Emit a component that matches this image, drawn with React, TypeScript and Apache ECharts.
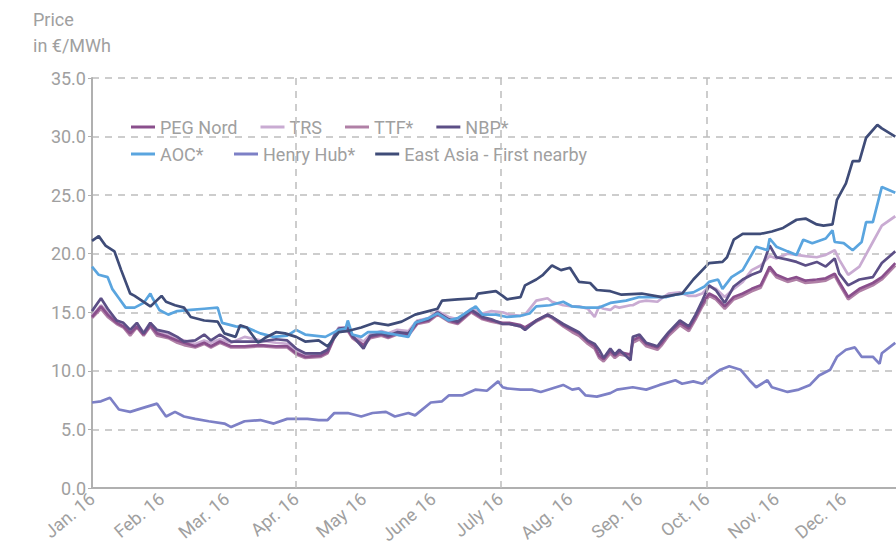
import React, { useEffect, useRef } from "react";
import * as echarts from "echarts";

// Month tick labels and quarter gridlines
const monthLabels = ["Jan. 16", "Feb. 16", "Mar. 16", "Apr. 16", "May 16", "June 16", "July 16", "Aug. 16", "Sep. 16", "Oct. 16", "Nov. 16", "Dec. 16"];
const quarterStarts = ["2016-04-01", "2016-07-01", "2016-10-01"];

// Every day of 2016 as axis categories
const days: string[] = [];
for (let i = 0; i < 366; i++) {
  const d = new Date(Date.UTC(2016, 0, 1 + i));
  days.push(d.toISOString().slice(0, 10));
}

// [day of year (0 = 1 Jan), price in €/MWh]
const nbp: [number, number][] = [[0,15.1],[4,16.2],[7,15.3],[11,14.3],[14,14.1],[17,13.5],[20,14.1],[23,13.2],[26,14.1],[29,13.5],[34,13.3],[38,12.9],[41,12.5],[46,12.6],[50,13.1],[53,12.6],[57,13.1],[62,12.5],[68,12.5],[75,12.5],[82,12.7],[87,12.6],[91,11.9],[95,11.5],[102,11.5],[105,11.8],[108,13.0],[110,13.6],[114,13.7],[116,13.0],[121,11.9],[124,13.0],[129,13.2],[132,13.0],[136,13.3],[141,13.2],[145,14.2],[150,14.4],[154,15.0],[159,14.4],[163,14.2],[169,15.2],[174,14.6],[178,14.4],[183,14.0],[186,14.0],[191,13.8],[193,13.5],[198,14.3],[203,14.8],[205,14.6],[210,14.0],[214,13.6],[217,13.3],[221,12.6],[224,12.3],[226,11.8],[228,11.1],[231,11.9],[233,11.4],[235,11.8],[240,10.9],[241,12.9],[244,13.1],[247,12.4],[252,12.1],[254,12.6],[257,13.3],[262,14.3],[266,13.8],[269,14.8],[272,16.0],[275,17.3],[278,16.9],[282,15.8],[286,17.2],[290,17.8],[294,18.2],[298,18.5],[302,20.7],[305,19.7],[310,19.5],[314,19.3],[318,19.0],[323,19.3],[327,18.9],[331,19.6],[333,18.3],[337,17.3],[342,17.8],[348,18.0],[352,19.2],[358,20.2]];
const pegNord: [number, number][] = [[0,14.6],[4,15.5],[7,14.8],[11,14.1],[14,13.8],[17,13.2],[20,13.8],[23,13.1],[26,13.9],[29,13.2],[34,12.9],[38,12.6],[41,12.4],[46,12.1],[50,12.4],[53,12.1],[57,12.5],[62,12.1],[68,12.1],[75,12.2],[82,12.1],[87,12.1],[91,11.5],[95,11.2],[102,11.3],[105,11.6],[108,12.9],[110,13.5],[114,13.5],[116,12.9],[121,12.2],[124,12.9],[129,13.1],[132,12.9],[136,13.2],[141,13.1],[145,14.1],[150,14.3],[154,14.9],[159,14.3],[163,14.1],[169,15.1],[174,14.5],[178,14.3],[183,14.1],[186,14.1],[191,13.9],[193,13.7],[198,14.3],[203,14.8],[205,14.6],[210,13.9],[214,13.5],[217,13.2],[221,12.5],[224,12.1],[226,11.3],[228,11.0],[231,11.7],[233,11.3],[235,11.6],[240,11.4],[241,12.6],[244,12.9],[247,12.3],[252,12.0],[254,12.4],[257,13.2],[262,14.1],[266,13.6],[269,14.6],[272,15.7],[275,16.6],[278,16.3],[282,15.5],[286,16.3],[290,16.6],[294,17.0],[298,17.3],[302,18.9],[305,18.2],[310,17.8],[314,18.0],[318,17.7],[323,17.8],[327,17.9],[331,18.3],[333,17.6],[337,16.3],[342,17.0],[348,17.5],[352,18.0],[358,19.2]];
const ttf: [number, number][] = [[0,14.5],[4,15.3],[7,14.6],[11,14.0],[14,13.7],[17,13.0],[20,13.7],[23,13.0],[26,13.8],[29,13.0],[34,12.8],[38,12.4],[41,12.2],[46,12.0],[50,12.3],[53,12.0],[57,12.4],[62,12.0],[68,12.0],[75,12.1],[82,12.0],[87,12.0],[91,11.4],[95,11.1],[102,11.2],[105,11.5],[108,12.8],[110,13.4],[114,13.4],[116,12.8],[121,12.1],[124,12.8],[129,13.0],[132,12.8],[136,13.1],[141,13.0],[145,14.0],[150,14.2],[154,14.8],[159,14.2],[163,14.0],[169,15.0],[174,14.4],[178,14.2],[183,14.0],[186,14.0],[191,13.8],[193,13.6],[198,14.2],[203,14.7],[205,14.5],[210,13.8],[214,13.3],[217,13.0],[221,12.3],[224,11.9],[226,11.1],[228,10.8],[231,11.5],[233,11.1],[235,11.4],[240,11.2],[241,12.4],[244,12.7],[247,12.1],[252,11.8],[254,12.2],[257,13.0],[262,13.9],[266,13.4],[269,14.4],[272,15.5],[275,16.4],[278,16.1],[282,15.3],[286,16.1],[290,16.4],[294,16.8],[298,17.1],[302,18.7],[305,18.0],[310,17.6],[314,17.8],[318,17.5],[323,17.6],[327,17.7],[331,18.1],[333,17.4],[337,16.1],[342,16.8],[348,17.3],[352,17.8],[358,19.0]];
const trs: [number, number][] = [[0,14.7],[4,15.6],[7,15.0],[11,14.3],[14,14.0],[17,13.4],[20,14.0],[23,13.3],[26,14.1],[29,13.4],[34,13.1],[38,12.8],[41,12.6],[46,12.3],[50,12.6],[53,12.4],[57,12.7],[62,12.4],[68,12.9],[75,12.6],[82,12.4],[87,12.3],[91,11.7],[95,11.4],[102,11.5],[105,11.8],[108,13.1],[110,13.7],[114,13.7],[116,13.1],[121,12.5],[124,13.1],[129,13.4],[132,13.2],[136,13.5],[141,13.4],[145,14.3],[150,14.5],[154,15.1],[159,14.6],[163,14.4],[169,15.3],[174,14.9],[178,15.1],[183,15.0],[186,14.8],[191,14.7],[193,14.8],[198,16.0],[203,16.2],[205,15.9],[210,15.6],[214,15.5],[217,15.5],[221,15.3],[224,14.6],[226,15.5],[228,15.3],[231,15.2],[233,15.5],[235,15.4],[240,15.6],[241,15.6],[244,15.9],[247,16.0],[252,15.9],[254,16.2],[257,16.6],[262,16.7],[266,16.4],[269,16.4],[272,16.6],[275,17.2],[278,17.0],[282,16.3],[286,17.0],[290,17.6],[294,18.6],[298,19.0],[302,19.8],[305,19.6],[310,20.0],[314,19.9],[318,19.8],[323,19.7],[327,19.9],[331,20.3],[333,19.5],[337,18.2],[342,18.9],[348,21.0],[352,22.4],[358,23.2]];
const aoc: [number, number][] = [[0,18.9],[3,18.2],[7,18.0],[9,17.0],[12,16.2],[15,15.4],[19,15.4],[23,15.8],[26,16.6],[27,16.2],[30,15.2],[34,14.8],[38,15.1],[44,15.2],[50,15.3],[56,15.4],[58,14.1],[64,13.8],[69,13.7],[75,13.2],[81,12.9],[87,13.0],[91,13.5],[95,13.1],[104,12.9],[110,13.5],[113,13.6],[114,14.3],[116,13.1],[120,12.9],[123,13.3],[129,13.3],[135,13.1],[141,12.9],[144,14.1],[150,14.5],[154,14.9],[159,14.3],[163,14.5],[171,15.5],[174,14.8],[180,14.8],[185,14.6],[191,14.7],[195,14.9],[198,15.5],[204,15.6],[210,15.9],[214,15.5],[220,15.4],[226,15.4],[231,15.8],[238,16.0],[244,16.3],[256,16.3],[260,16.5],[268,16.7],[273,17.2],[275,17.6],[279,17.8],[281,17.0],[285,18.0],[290,18.6],[296,20.6],[301,20.3],[302,21.3],[305,20.6],[310,20.2],[314,19.9],[317,21.2],[321,20.9],[327,21.3],[330,22.0],[331,21.0],[335,20.9],[339,20.3],[343,21.0],[345,22.7],[348,22.7],[352,25.7],[358,25.2]];
const henryHub: [number, number][] = [[0,7.3],[4,7.4],[8,7.7],[12,6.7],[17,6.5],[22,6.8],[29,7.2],[33,6.1],[37,6.5],[41,6.1],[46,5.9],[52,5.7],[59,5.5],[62,5.2],[68,5.7],[75,5.8],[81,5.5],[87,5.9],[91,5.9],[96,5.9],[101,5.8],[105,5.8],[108,6.4],[114,6.4],[120,6.1],[125,6.4],[131,6.5],[135,6.1],[141,6.4],[144,6.2],[151,7.3],[156,7.4],[159,7.9],[165,7.9],[171,8.4],[176,8.3],[181,9.1],[183,8.6],[185,8.5],[191,8.4],[196,8.4],[200,8.2],[205,8.5],[210,8.8],[214,8.4],[217,8.5],[220,7.9],[225,7.8],[231,8.1],[234,8.4],[241,8.6],[247,8.4],[253,8.8],[260,9.2],[263,8.9],[268,9.1],[272,8.9],[275,9.4],[280,10.1],[284,10.4],[289,10.1],[293,9.2],[296,8.6],[301,9.2],[303,8.6],[310,8.2],[315,8.4],[320,8.8],[324,9.6],[329,10.1],[332,11.2],[336,11.8],[340,12.0],[343,11.2],[348,11.2],[351,10.6],[352,11.5],[358,12.4]];
const eastAsia: [number, number][] = [[0,21.1],[3,21.5],[6,20.7],[10,20.2],[13,18.6],[17,16.6],[19,16.4],[26,15.5],[31,16.4],[33,15.9],[37,15.6],[41,15.4],[44,14.6],[50,14.3],[56,14.2],[59,13.2],[64,12.9],[66,13.9],[69,13.7],[74,12.4],[77,12.8],[82,13.3],[86,13.2],[91,12.9],[95,12.5],[101,12.6],[105,12.1],[110,13.3],[114,13.4],[120,13.7],[126,14.1],[132,13.9],[138,14.2],[144,14.8],[150,15.1],[154,15.3],[156,16.0],[163,16.1],[171,16.2],[172,16.6],[180,16.8],[183,16.4],[185,16.1],[191,16.3],[193,17.3],[198,17.8],[201,18.2],[205,19.0],[209,18.6],[213,18.8],[217,17.6],[222,17.5],[225,16.9],[231,16.8],[236,16.5],[245,16.6],[254,16.3],[263,16.6],[268,17.8],[275,19.2],[281,19.3],[283,19.7],[286,21.2],[290,21.7],[298,21.7],[303,21.9],[308,22.2],[314,22.9],[318,23.0],[323,22.5],[326,22.4],[330,22.5],[332,24.6],[336,26.0],[339,27.9],[342,27.9],[345,29.9],[350,31.0],[352,30.7],[358,30.0]];

const seriesDefs = [
  { name: "Henry Hub*", values: henryHub, color: "#7d80c6" },
  { name: "TRS", values: trs, color: "#c9abd2" },
  { name: "TTF*", values: ttf, color: "#b080a6" },
  { name: "PEG Nord", values: pegNord, color: "#8a4f8c" },
  { name: "NBP*", values: nbp, color: "#5c4f86" },
  { name: "AOC*", values: aoc, color: "#5aa5df" },
  { name: "East Asia - First nearby", values: eastAsia, color: "#3f4c78" },
];

const grey = "#a0a0a0";
const gridLine = { type: [7, 6], color: "#bdbdbd", width: 1.5 };
const legendText = { color: grey, fontSize: 18, fontFamily: "Roboto" };

export default function App() {
  const ref = useRef<HTMLDivElement>(null);
  useEffect(() => {
    if (!ref.current) return;
    const chart = echarts.init(ref.current, undefined, { renderer: "svg" });
    const legendCommon = {
      orient: "horizontal",
      icon: "rect",
      itemWidth: 24,
      itemHeight: 3,
      padding: 0,
      textStyle: legendText,
      selectedMode: false,
    };
    chart.setOption({
      animation: false,
      textStyle: { fontFamily: "Roboto" },
      grid: { left: 92, top: 78, width: 819, height: 410, outerBoundsMode: "none" },
      graphic: [
        {
          type: "text",
          left: 33,
          top: 6,
          style: { text: "Price\nin €/MWh", fill: grey, font: "18px Roboto", lineHeight: 26 },
        },
      ],
      legend: [
        { ...legendCommon, left: 131, top: 118, itemGap: 23, data: ["PEG Nord", "TRS", "TTF*", "NBP*"] },
        { ...legendCommon, left: 131, top: 145, itemGap: 21, data: ["AOC*"] },
        { ...legendCommon, left: 234, top: 145, itemGap: 20, data: ["Henry Hub*", "East Asia - First nearby"] },
      ],
      xAxis: {
        type: "category",
        data: days,
        boundaryGap: false,
        axisLine: { lineStyle: { color: "#b0b0b0", width: 2 } },
        axisTick: { show: false },
        axisLabel: {
          interval: (_i: number, v: string) => v.endsWith("-01"),
          formatter: (v: string) => monthLabels[parseInt(v.slice(5, 7), 10) - 1],
          rotate: 40,
          color: grey,
          fontSize: 18,
          margin: 8,
        },
        splitLine: { show: false },
      },
      yAxis: {
        type: "value",
        min: 0,
        max: 35,
        interval: 5,
        axisLine: { show: true, lineStyle: { color: "#b0b0b0", width: 2 } },
        axisTick: { show: true, length: 4, lineStyle: { color: "#b0b0b0" } },
        axisLabel: { formatter: (v: number) => v.toFixed(1), color: grey, fontSize: 18, margin: 6 },
        splitLine: { lineStyle: gridLine },
      },
      series: seriesDefs.map((s, idx) => ({
        name: s.name,
        type: "line",
        data: s.values.map(([d, v]) => [days[d], v]),
        showSymbol: false,
        symbol: "none",
        lineStyle: { color: s.color, width: 2.7 },
        itemStyle: { color: s.color },
        markLine:
          idx === 0
            ? {
                silent: true,
                symbol: "none",
                label: { show: false },
                lineStyle: gridLine,
                data: quarterStarts.map((q) => ({ xAxis: q })),
              }
            : undefined,
      })),
    });
    return () => chart.dispose();
  }, []);
  return (
    <div style={{ width: 896, height: 557, position: "absolute", left: 0, top: 0, overflow: "hidden" }}>
      <div ref={ref} style={{ width: 940, height: 557 }} />
    </div>
  );
}
